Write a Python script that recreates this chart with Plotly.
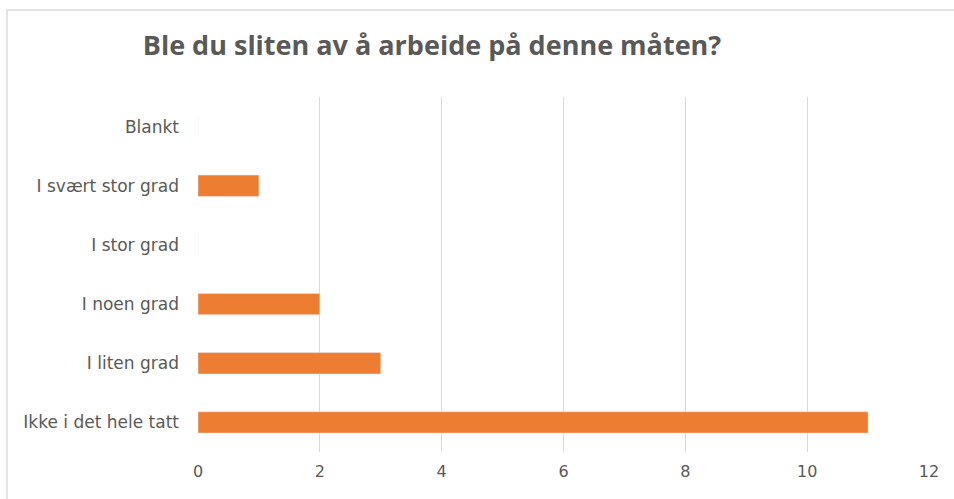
import plotly.graph_objects as go

categories = ["Ikke i det hele tatt", "I liten grad", "I noen grad", "I stor grad", "I svært stor grad", "Blankt"]
values = [11, 3, 2, 0, 1, 0]
title_text = "Ble du sliten av å arbeide på denne måten?"

W, H = 954, 499
L, R, T, B = 198, 25, 97, 47
pw, ph = W - L - R, H - T - B

fig = go.Figure(go.Bar(
    y=categories, x=values, orientation="h",
    marker=dict(color="#ED7D31"), width=0.36,
))

fig.update_layout(
    width=W, height=H,
    margin=dict(l=L, r=R, t=T, b=B),
    paper_bgcolor="white", plot_bgcolor="white",
    showlegend=False,
    title=dict(text="<b>" + title_text + "</b>", xref="container", yref="container",
               x=432 / W, xanchor="center", y=1 - 46 / H, yanchor="middle",
               font=dict(family="Open Sans", size=27, color="#595959")),
    font=dict(family="DejaVu Sans", size=17, color="#595959"),
)
fig.update_xaxes(range=[0, 12], dtick=2, showgrid=True, gridcolor="#D9D9D9", gridwidth=1,
                 zeroline=False, showline=False, ticks="", ticklabelstandoff=8,
                 tickfont=dict(family="DejaVu Sans", size=16, color="#595959"), fixedrange=True)
fig.update_yaxes(showgrid=False, zeroline=False, showline=False, ticks="", ticklabelstandoff=18,
                 tickfont=dict(family="DejaVu Sans", size=17, color="#595959"), fixedrange=True)

# chart border (only top/left visible in the reference crop)
x0 = (7 - L) / pw
y1 = (H - B - 10) / ph
fig.add_shape(type="rect", xref="paper", yref="paper", x0=x0, x1=1.2, y0=-0.5, y1=y1,
              line=dict(color="#D9D9D9", width=1.5), fillcolor="rgba(0,0,0,0)", layer="below")

fig.write_html("out.html", config={"displayModeBar": False},
               post_script="document.body.style.margin='0';")
